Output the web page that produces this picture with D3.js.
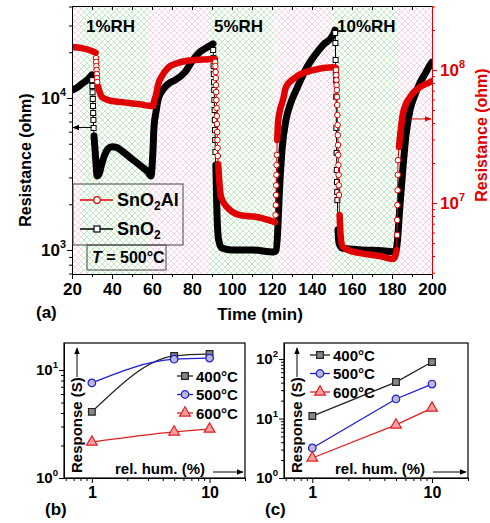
<!DOCTYPE html>
<html>
<head>
<meta charset="utf-8">
<script src="https://cdn.jsdelivr.net/npm/d3@7"></script>
<style>
body{margin:0;background:#fff;}
svg{font-family:"Liberation Sans",Arial,sans-serif;font-weight:bold;}
</style>
</head>
<body>
<div class="visual"></div>
<script>
//humidity pulses (min)
const bandEdges = [20, 25, 58, 89, 120.5, 150.5, 183, 200];
const bandKinds = ["dry", "wet", "dry", "wet", "dry", "wet", "dry"];
const rhLabels = ["1%RH", "5%RH", "10%RH"];

//SnO2, left axis (ohm)
const sno2Time = [20, 22, 25, 28, 30,
  30.1, 30.2, 30.3, 30.4, 30.5, 30.6, 30.7, 30.8,
  31, 31.5, 32, 32.5, 33.5, 35, 36.5, 38, 40, 42, 45, 50, 55, 58, 59.5,
  60.5, 61, 62, 63, 65, 66.5, 69, 71.5, 76.5, 80.5, 84, 88, 90.5,
  90.6, 90.7, 90.8, 90.9, 91, 91.1, 91.2, 91.3, 91.4, 91.5, 91.6, 91.7,
  91.9, 92.1, 92.3, 92.6, 93, 93.7, 95, 100, 110, 121, 122, 123, 123.5, 125, 127, 129,
  132.5, 137.5, 141.5, 145.5, 150.5, 151.5,
  151.6, 151.7, 151.8, 151.9, 152, 152.1, 152.2, 152.3, 152.4, 152.5, 152.6, 152.7,
  153, 153.5, 155, 165, 175, 181.5, 182.5, 184, 185.5, 187, 189, 191.5, 194, 197, 199, 200];
const sno2Res = [11300, 11600, 12400, 13300, 14200,
  13100, 12000, 10900, 9850, 8860, 7960, 7170, 6350,
  5630, 4600, 3700, 3070, 3160, 3730, 4280, 4620, 4770, 4740, 4480, 3970, 3520, 3260, 3070,
  4550, 6440, 8090, 9700, 11100, 11800, 12600, 13100, 14800, 17800, 20100, 21700, 22700,
  20700, 18300, 16200, 14400, 12700, 11300, 9700, 8340, 7170, 6150, 5290, 4410,
  3620, 2890, 2130, 1570, 1260, 1110, 1030, 1000, 1000, 970, 990, 1460, 2130, 4550, 7170, 9000,
  11600, 16000, 19200, 22300, 25900, 28000,
  26800, 23000, 17800, 14800, 13100, 10200, 6350, 4350, 3360, 2800, 2410, 2130,
  1360, 1110, 1030, 1000, 990, 970, 1080, 1980, 3510, 5710, 8340, 10500, 12600, 14800, 16500, 17200];
const sno2Fast = [[30.05, 30.9], [90.55, 91.75], [151.55, 152.75]];

//SnO2Al, right axis (ohm)
const alTime = [20, 25, 30, 31.8,
  32, 32.1, 32.2, 32.3, 32.4, 32.5, 32.6,
  33, 33.8, 35, 38, 45, 53, 60.5, 61.2, 62, 63, 65, 68, 73, 81.5, 91.5,
  91.6, 91.7, 91.8, 91.9, 92, 92.1, 92.2, 92.3, 92.4, 92.5, 92.6, 92.7, 92.8, 92.9,
  93.1, 93.6, 94.5, 97.5, 104, 112.5, 121.5,
  121.8, 121.9, 122, 122.1, 122.2, 122.3, 122.4,
  122.6, 123, 124, 125.5, 127, 132, 140.5, 150.5, 151.9,
  152, 152.1, 152.2, 152.3, 152.4, 152.5, 152.6, 152.7, 152.8, 152.9, 153, 153.1, 153.2, 153.3, 153.4, 153.5,
  153.8, 154.3, 155.2, 158, 164, 174, 180.5, 181.5, 182.3,
  182.5, 182.6, 182.7, 182.8, 182.9, 183,
  183.5, 185.5, 189, 194, 199, 200];
const alRes = [1.49e8, 1.46e8, 1.39e8, 1.35e8,
  1.23e8, 1.15e8, 1.07e8, 1.0e8, 9.33e7, 8.71e7, 8.13e7,
  7.59e7, 6.84e7, 6.27e7, 5.95e7, 5.74e7, 5.55e7, 5.36e7, 5.95e7, 6.49e7, 7.71e7, 9.01e7, 1.04e8, 1.13e8, 1.19e8, 1.21e8,
  1.15e8, 1.07e8, 9.66e7, 8.71e7, 7.71e7, 6.84e7, 5.95e7, 5.18e7, 4.51e7, 3.93e7, 3.42e7, 2.98e7, 2.60e7, 2.26e7,
  1.96e7, 1.49e7, 1.11e7, 9.33e6, 8.13e6, 7.85e6, 7.2e6,
  8.13e6, 9.66e6, 1.15e7, 1.36e7, 1.63e7, 1.93e7, 2.30e7,
  2.98e7, 4.0e7, 5.0e7, 5.95e7, 7.45e7, 8.86e7, 1.0e8, 1.05e8, 1.04e8,
  1.0e8, 9.17e7, 8.41e7, 7.71e7, 7.08e7, 6.27e7, 5.46e7, 4.59e7, 3.86e7, 3.24e7, 2.73e7, 2.30e7, 1.93e7, 1.63e7, 1.36e7, 1.15e7,
  8.13e6, 5.75e6, 4.75e6, 4.44e6, 4.21e6, 4.0e6, 3.8e6, 3.93e6, 4.44e6,
  5.75e6, 7.45e6, 9.66e6, 1.25e7, 1.63e7, 2.10e7,
  2.64e7, 4.75e7, 6.27e7, 7.45e7, 8.12e7, 8.27e7];
const alFast = [[31.95, 32.65], [91.55, 92.95], [121.7, 122.45], [151.95, 153.55], [182.45, 183.05]];

//panels b and c: response vs rel. humidity
const rhValues = [1, 5, 10];
const tempLabels = ["400°C", "500°C", "600°C"];
const respB400 = [4.1, 13.5, 14.1];
const respB500 = [7.6, 12.6, 12.9];
const respB600 = [2.15, 2.67, 2.84];
const respC400 = [11.0, 41, 89];
const respC500 = [3.2, 21.3, 38];
const respC600 = [2.17, 7.8, 15];

const width = 490, height = 523;
const svg = d3.select(".visual").append("svg")
  .attr("width", width)
  .attr("height", height);
const defs = svg.append("defs");

function hatch(id, color) {
  const p = defs.append("pattern")
    .attr("id", id).attr("width", 6).attr("height", 6)
    .attr("patternUnits", "userSpaceOnUse");
  p.append("rect").attr("width", 6).attr("height", 6).attr("fill", "#fff");
  p.append("path").attr("d", "M0,0L6,6M6,0L0,6")
    .attr("stroke", color).attr("stroke-width", 0.6).attr("fill", "none");
}
hatch("dry", "#f4b8da");
hatch("wet", "#99e099");

function arrowDef(id, color) {
  defs.append("marker").attr("id", id)
    .attr("viewBox", "0 0 10 10").attr("refX", 9).attr("refY", 5)
    .attr("markerWidth", 7).attr("markerHeight", 7).attr("orient", "auto")
    .append("path").attr("d", "M0,1L10,5L0,9Z").attr("fill", color);
}
arrowDef("arrK", "#000");
arrowDef("arrR", "#e00000");

// ---------- panel (a) ----------
const x = d3.scaleLinear().domain([20, 200]).range([72, 432]);
const yL = d3.scaleLog().domain([695, 40300]).range([274, 6]);
const yR = d3.scaleLog().domain([2.93e6, 3.03e8]).range([274, 6]);
const red = "#e00000";

defs.append("clipPath").attr("id", "clipA").append("rect")
  .attr("x", 72).attr("y", 6).attr("width", 360).attr("height", 268);

const bands = d3.pairs(bandEdges).map((p, i) => ({t0: p[0], t1: p[1], kind: bandKinds[i]}));
svg.append("g").selectAll("rect").data(bands).enter().append("rect")
  .attr("x", d => x(d.t0)).attr("y", 6)
  .attr("width", d => x(d.t1) - x(d.t0)).attr("height", 268)
  .attr("fill", d => "url(#" + d.kind + ")");

svg.append("g").selectAll("text").data(bands.filter(d => d.kind == "wet")).enter().append("text")
  .attr("x", d => x(d.t0) + 4).attr("y", 32)
  .attr("font-size", 17)
  .text((d, i) => rhLabels[i]);

function drawSeries(times, res, fast, yScale, color, bandW, shape) {
  const pts = times.map((t, i) => ({t: t, r: res[i], fast: fast.some(w => t > w[0] && t < w[1])}));
  const g = svg.append("g").attr("clip-path", "url(#clipA)");
  g.append("path").datum(pts)
    .attr("d", d3.line().x(d => x(d.t)).y(d => yScale(d.r)))
    .attr("fill", "none").attr("stroke", color).attr("stroke-width", 1);
  g.append("path").datum(pts)
    .attr("d", d3.line().defined(d => !d.fast).curve(d3.curveMonotoneX).x(d => x(d.t)).y(d => yScale(d.r)))
    .attr("fill", "none").attr("stroke", color).attr("stroke-width", bandW)
    .attr("stroke-linejoin", "round").attr("stroke-linecap", "round");
  const sp = pts.filter(d => d.fast);
  if (shape == "square") {
    g.selectAll(".m").data(sp).enter().append("rect")
      .attr("x", d => x(d.t) - 2.5).attr("y", d => yScale(d.r) - 2.5)
      .attr("width", 5).attr("height", 5)
      .attr("fill", "#fff").attr("stroke", color).attr("stroke-width", 1);
  } else {
    g.selectAll(".m").data(sp).enter().append("circle")
      .attr("cx", d => x(d.t)).attr("cy", d => yScale(d.r)).attr("r", 2.8)
      .attr("fill", "#fff").attr("stroke", color).attr("stroke-width", 1);
  }
}
drawSeries(sno2Time, sno2Res, sno2Fast, yL, "#000", 7, "square");
drawSeries(alTime, alRes, alFast, yR, red, 6.5, "circle");

// axes (a)
const majorX = d3.range(20, 201, 20), minorX = d3.range(30, 200, 20);
svg.append("g").attr("transform", "translate(0,274)")
  .call(d3.axisBottom(x).tickValues(minorX).tickSize(3).tickSizeOuter(0).tickFormat(""));
svg.append("g").attr("transform", "translate(0,274)")
  .call(d3.axisBottom(x).tickValues(majorX).tickSize(5).tickSizeOuter(0).tickPadding(4))
  .call(g => g.selectAll("text").attr("font-size", 17).attr("font-family", null).attr("fill", "#000"));
svg.append("g").attr("transform", "translate(0,6)")
  .call(d3.axisTop(x).tickValues(majorX.concat(minorX)).tickSize(-4).tickSizeOuter(0).tickFormat(""));

function logAxis(scale, axisFn, pos, color) {
  const all = scale.ticks().filter(v => v >= scale.domain()[0] && v <= scale.domain()[1]);
  const major = all.filter(v => Math.abs(Math.log10(v) - Math.round(Math.log10(v))) < 1e-9);
  const minor = all.filter(v => major.indexOf(v) < 0);
  const g = svg.append("g").attr("transform", pos);
  g.append("g").call(axisFn(scale).tickValues(minor).tickSize(3).tickSizeOuter(0).tickFormat(""));
  g.append("g").call(axisFn(scale).tickValues(major).tickSize(5).tickSizeOuter(0).tickFormat(""));
  g.selectAll("path,line").attr("stroke", color);
  return major;
}
function powLabel(g, v, px, py, anchor, color, fs) {
  const t = g.append("text").attr("x", px).attr("y", py).attr("text-anchor", anchor)
    .attr("fill", color).attr("font-size", fs);
  t.append("tspan").text("10");
  t.append("tspan").attr("font-size", fs * 0.64).attr("dy", -fs * 0.45).text(Math.round(Math.log10(v)));
}
const labs = svg.append("g");
logAxis(yL, d3.axisLeft, "translate(72,0)", "#000").forEach(v => powLabel(labs, v, 66, yL(v) + 6, "end", "#000", 17));
logAxis(yR, d3.axisRight, "translate(432,0)", red).forEach(v => powLabel(labs, v, 440, yR(v) + 6, "start", red, 17));

svg.append("text").attr("x", 260).attr("y", 320).attr("text-anchor", "middle").attr("font-size", 17).text("Time (min)");
svg.append("text").attr("x", 36).attr("y", 318).attr("font-size", 17).text("(a)");
svg.append("text").attr("transform", "translate(31,160) rotate(-90)").attr("text-anchor", "middle")
  .attr("font-size", 16).text("Resistance (ohm)");
svg.append("text").attr("transform", "translate(487,135) rotate(-90)").attr("text-anchor", "middle")
  .attr("font-size", 16).attr("fill", red).text("Resistance (ohm)");

// pointer arrows to the axes
svg.append("line").attr("x1", x(30)).attr("x2", x(20) + 1).attr("y1", yL(6400)).attr("y2", yL(6400))
  .attr("stroke", "#000").attr("stroke-width", 1).attr("marker-end", "url(#arrK)");
svg.append("line").attr("x1", x(189)).attr("x2", x(200) - 1).attr("y1", yR(4.29e7)).attr("y2", yR(4.29e7))
  .attr("stroke", red).attr("stroke-width", 1).attr("marker-end", "url(#arrR)");

// legend (a)
const leg = svg.append("g");
leg.append("rect").attr("x", 73).attr("y", 184).attr("width", 110).attr("height", 61)
  .attr("fill", "none").attr("stroke", "#444").attr("stroke-width", 1);
leg.append("rect").attr("x", 87).attr("y", 245).attr("width", 79).attr("height", 25)
  .attr("fill", "none").attr("stroke", "#444").attr("stroke-width", 1);
leg.append("line").attr("x1", 80).attr("x2", 113).attr("y1", 200).attr("y2", 200).attr("stroke", red).attr("stroke-width", 1.3);
leg.append("circle").attr("cx", 97).attr("cy", 200).attr("r", 3.3).attr("fill", "#fff").attr("stroke", red).attr("stroke-width", 1.2);
leg.append("line").attr("x1", 80).attr("x2", 113).attr("y1", 229).attr("y2", 229).attr("stroke", "#000").attr("stroke-width", 1.3);
leg.append("rect").attr("x", 94).attr("y", 226).attr("width", 6).attr("height", 6).attr("fill", "#fff").attr("stroke", "#000").attr("stroke-width", 1.2);
const l1 = leg.append("text").attr("x", 117).attr("y", 206).attr("font-size", 18);
l1.append("tspan").text("SnO");
l1.append("tspan").attr("font-size", 12).attr("dy", 4).text("2");
l1.append("tspan").attr("dy", -4).text("Al");
const l2 = leg.append("text").attr("x", 117).attr("y", 235).attr("font-size", 18);
l2.append("tspan").text("SnO");
l2.append("tspan").attr("font-size", 12).attr("dy", 4).text("2");
const l3 = leg.append("text").attr("x", 92).attr("y", 263).attr("font-size", 16);
l3.append("tspan").attr("font-style", "italic").text("T");
l3.append("tspan").text(" = 500°C");

// ---------- panels (b) and (c) ----------
const tempColors = ["#222", "#1c1cd0", "#e02020"];
const tempFills = ["#888", "#b8b8d8", "#f4a0a0"];
const shapes = [d3.symbolSquare, d3.symbolCircle, d3.symbolTriangle];

function respPanel(opt) {
  const px = d3.scaleLog().domain([0.58, 20]).range([opt.x0, opt.x1]);
  const py = d3.scaleLog().domain([1, opt.yMax]).range([478, 343]);
  const g = svg.append("g");
  const ticks = px.ticks().filter(v => v >= 0.58 && v <= 20);
  g.append("g").attr("transform", "translate(0,478)")
    .call(d3.axisBottom(px).tickValues(ticks.filter(v => v != 1 && v != 10)).tickSize(3).tickSizeOuter(0).tickFormat(""));
  g.append("g").attr("transform", "translate(0,478)")
    .call(d3.axisBottom(px).tickValues([1, 10]).tickSize(5).tickSizeOuter(0).tickPadding(4).tickFormat(d3.format("d")))
    .call(a => a.selectAll("text").attr("font-size", 16).attr("font-family", null).attr("fill", "#000"));
  const yt = py.ticks().filter(v => v >= 1 && v <= opt.yMax);
  const ym = yt.filter(v => Math.abs(Math.log10(v) - Math.round(Math.log10(v))) < 1e-9);
  g.append("g").attr("transform", "translate(" + opt.x0 + ",0)")
    .call(d3.axisLeft(py).tickValues(yt.filter(v => ym.indexOf(v) < 0)).tickSize(3).tickSizeOuter(0).tickFormat(""));
  g.append("g").attr("transform", "translate(" + opt.x0 + ",0)")
    .call(d3.axisLeft(py).tickValues(ym).tickSize(5).tickSizeOuter(0).tickFormat(""));
  ym.forEach(v => powLabel(g, v, opt.x0 - 6, py(v) + 5, "end", "#000", 15));
  g.append("rect").attr("x", opt.x0).attr("y", 343).attr("width", opt.x1 - opt.x0).attr("height", 135)
    .attr("fill", "none").attr("stroke", "#000").attr("stroke-width", 1.2);

  const line = d3.line().curve(opt.curve).x(d => px(d[0])).y(d => py(d[1]));
  opt.series.forEach((s, k) => {
    const pts = rhValues.map((h, i) => [h, s[i]]);
    g.append("path").datum(pts).attr("d", line).attr("fill", "none")
      .attr("stroke", tempColors[k]).attr("stroke-width", 1.3);
    g.selectAll(".p" + k).data(pts).enter().append("path")
      .attr("transform", d => "translate(" + px(d[0]) + "," + py(d[1]) + ")")
      .attr("d", d3.symbol().type(shapes[k]).size(k == 2 ? 50 : 45))
      .attr("fill", tempFills[k]).attr("stroke", tempColors[k]).attr("stroke-width", 1.2);
  });

  // legend
  tempLabels.forEach((lab, k) => {
    const ly = opt.legY + k * 18.5;
    g.append("line").attr("x1", opt.legX).attr("x2", opt.legX + opt.legW).attr("y1", ly).attr("y2", ly)
      .attr("stroke", tempColors[k]).attr("stroke-width", 1.3);
    g.append("path").attr("transform", "translate(" + (opt.legX + opt.legW / 2) + "," + ly + ")")
      .attr("d", d3.symbol().type(shapes[k]).size(k == 2 ? 50 : 45))
      .attr("fill", tempFills[k]).attr("stroke", tempColors[k]).attr("stroke-width", 1.2);
    g.append("text").attr("x", opt.legX + opt.legW + 3).attr("y", ly + 5.5).attr("font-size", 15).text(lab);
  });

  g.append("text").attr("transform", "translate(" + (opt.x0 + 18) + ",473) rotate(-90)")
    .attr("font-size", 15).text("Response (S)");
  g.append("line").attr("x1", opt.x0 + 13).attr("x2", opt.x0 + 13).attr("y1", 377).attr("y2", 348)
    .attr("stroke", "#000").attr("stroke-width", 1).attr("marker-end", "url(#arrK)");
  g.append("text").attr("x", opt.x0 + 51).attr("y", 474).attr("font-size", 15).text("rel. hum. (%)");
  g.append("line").attr("x1", opt.x0 + 149).attr("x2", opt.x1 - 2).attr("y1", 472).attr("y2", 472)
    .attr("stroke", "#000").attr("stroke-width", 1).attr("marker-end", "url(#arrK)");
  g.append("text").attr("x", opt.x0 - 19).attr("y", 515).attr("font-size", 17).text(opt.tag);
}

respPanel({x0: 64, x1: 245, yMax: 17.8, curve: d3.curveMonotoneX,
  series: [respB400, respB500, respB600], legX: 177, legW: 16, legY: 376, tag: "(b)"});
respPanel({x0: 284, x1: 468, yMax: 186, curve: d3.curveLinear,
  series: [respC400, respC500, respC600], legX: 310, legW: 20, legY: 355, tag: "(c)"});
</script>
</body>
</html>
